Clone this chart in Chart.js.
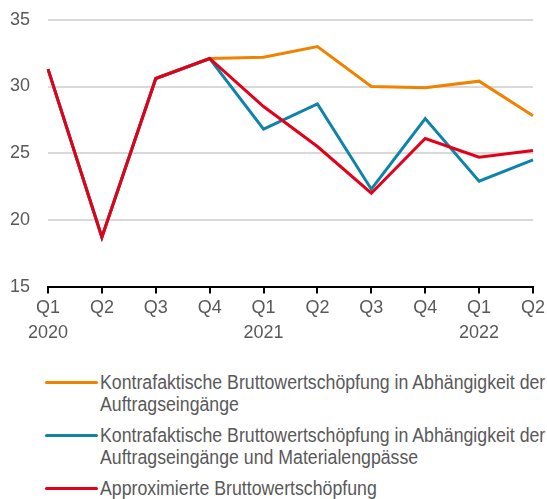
<!DOCTYPE html>
<html>
<head>
<meta charset="utf-8">
<script src="https://cdn.jsdelivr.net/npm/chart.js@4/dist/chart.umd.min.js"></script>
<style>
  body { margin: 0; background: #fff; }
  #wrap { position: relative; width: 547px; height: 499px; overflow: hidden; }
  #box { position: absolute; left: 0; top: -9px; width: 547px; height: 357px; }
  .leg { position: absolute; left: 0; width: 547px; font-family: "Liberation Sans", Arial, sans-serif; font-size: 20px; line-height: 22px; color: #595959; }
  .leg .mk { position: absolute; left: 45px; top: 10px; width: 53px; height: 3px; border-radius: 2px; }
  .leg .tx { position: absolute; left: 100px; top: 0; white-space: nowrap; transform: scaleX(0.886); transform-origin: 0 0; }
</style>
</head>
<body>
<div id="wrap">
  <div id="box"><canvas id="mycanvas"></canvas></div>
  <div id="legend"></div>
</div>
<script>
var quarters = [["Q1","2020"],"Q2","Q3","Q4",["Q1","2021"],"Q2","Q3","Q4",["Q1","2022"],"Q2"];
var auftrag = [31.3, 18.7, 30.6, 32.1, 32.2, 33.0, 30.0, 29.9, 30.4, 27.8];
var material = [31.3, 18.7, 30.6, 32.1, 26.8, 28.7, 22.3, 27.6, 22.9, 24.5];
var approx = [31.3, 18.7, 30.6, 32.1, 28.5, 25.5, 22.0, 26.1, 24.7, 25.2];
var yTicks = [15, 20, 25, 30, 35];
var seriesNames = [
  ["Kontrafaktische Bruttowertschöpfung in Abhängigkeit der", "Auftragseingänge"],
  ["Kontrafaktische Bruttowertschöpfung in Abhängigkeit der", "Auftragseingänge und Materialengpässe"],
  ["Approximierte Bruttowertschöpfung"]
];
var colors = ['#f08200', '#0e84a8', '#e2001a'];

var font = "'Liberation Sans', Arial, sans-serif";

// legend (HTML, because entries wrap over two lines)
var top0 = 371;
var legend = document.getElementById('legend');
for (var i = 0; i < seriesNames.length; i++) {
  var d = document.createElement('div');
  d.className = 'leg';
  d.style.top = top0 + 'px';
  d.innerHTML = '<div class="mk" style="background:' + colors[i] + '"></div><div class="tx">' + seriesNames[i].join('<br>') + '</div>';
  legend.appendChild(d);
  top0 += seriesNames[i].length * 22 + 9;
}

var ctx = document.getElementById('mycanvas');
var chart = new Chart(ctx, {
  type: 'line',
  data: {
    labels: quarters,
    datasets: [
      { label: seriesNames[2].join(' '), data: approx, borderColor: colors[2], borderWidth: 3, pointRadius: 0, tension: 0 },
      { label: seriesNames[1].join(' '), data: material, borderColor: colors[1], borderWidth: 3, pointRadius: 0, tension: 0 },
      { label: seriesNames[0].join(' '), data: auftrag, borderColor: colors[0], borderWidth: 3, pointRadius: 0, tension: 0 }
    ]
  },
  options: {
    responsive: true,
    maintainAspectRatio: false,
    animation: false,
    layout: { padding: { top: 0, left: 10, right: 1, bottom: 0 } },
    plugins: { legend: { display: false }, tooltip: { enabled: false } },
    scales: {
      x: {
        offset: false,
        grid: { drawOnChartArea: false, drawTicks: true, tickLength: 7, color: '#000', lineWidth: 2 },
        border: { display: true, color: '#000', width: 2 },
        ticks: { color: '#595959', font: { family: font, size: 18, lineHeight: 1.4 }, maxRotation: 0, autoSkip: false, padding: 2 }
      },
      y: {
        min: 15,
        max: 35,
        afterBuildTicks: function(axis) { axis.ticks = yTicks.map(function(v) { return { value: v }; }); },
        afterFit: function(axis) { axis.width = 38; },
        grid: {
          drawTicks: false,
          lineWidth: 2,
          color: function(c) { return c.tick && c.tick.value === 15 ? 'rgba(0,0,0,0)' : '#d9d9d9'; }
        },
        border: { display: false },
        ticks: { color: '#595959', font: { family: font, size: 18 }, padding: 18 }
      }
    }
  }
});
</script>
</body>
</html>
